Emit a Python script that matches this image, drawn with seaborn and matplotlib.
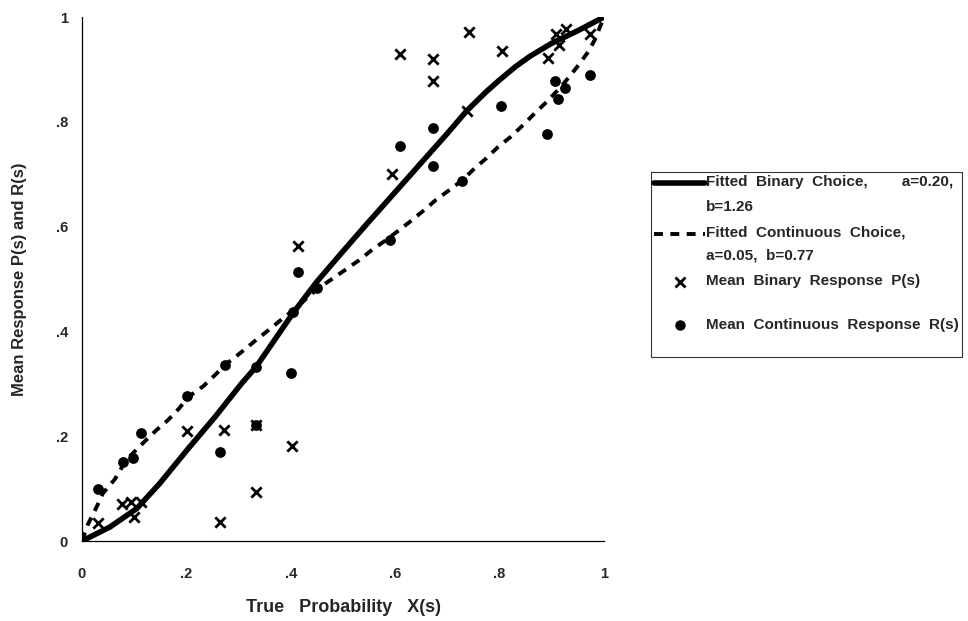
import matplotlib
matplotlib.use("Agg")
import matplotlib.pyplot as plt
import seaborn as sns
import pandas as pd
from matplotlib.lines import Line2D
from matplotlib.legend_handler import HandlerLine2D

# ---- data ----
binary_x = [0.031, 0.077, 0.093, 0.113, 0.099, 0.201, 0.272, 0.334, 0.403, 0.334, 0.264, 0.413,
            0.594, 0.609, 0.673, 0.673, 0.737, 0.741, 0.805, 0.893, 0.908, 0.914, 0.927, 0.973]
binary_y = [0.035, 0.071, 0.075, 0.074, 0.046, 0.209, 0.212, 0.221, 0.181, 0.093, 0.036, 0.563,
            0.700, 0.929, 0.920, 0.878, 0.821, 0.971, 0.935, 0.922, 0.968, 0.946, 0.977, 0.968]

cont_x = [0.031, 0.079, 0.097, 0.113, 0.201, 0.264, 0.273, 0.334, 0.333, 0.401, 0.405, 0.413,
          0.450, 0.590, 0.609, 0.672, 0.672, 0.728, 0.803, 0.891, 0.906, 0.912, 0.926, 0.973]
cont_y = [0.099, 0.151, 0.158, 0.206, 0.277, 0.170, 0.336, 0.221, 0.333, 0.320, 0.438, 0.514,
          0.482, 0.574, 0.754, 0.789, 0.716, 0.688, 0.830, 0.777, 0.877, 0.843, 0.864, 0.889]

fit_bin_x = [0, 0.054, 0.105, 0.149, 0.204, 0.255, 0.306, 0.334, 0.405, 0.45, 0.5, 0.55,
             0.609, 0.65, 0.7, 0.737, 0.775, 0.8, 0.83, 0.858, 0.9, 0.95, 1.0]
fit_bin_y = [0, 0.027, 0.062, 0.110, 0.177, 0.237, 0.301, 0.333, 0.436, 0.495, 0.553, 0.61,
             0.676, 0.722, 0.778, 0.821, 0.858, 0.880, 0.905, 0.925, 0.950, 0.974, 1.0]

fit_cont_x = [0, 0.011, 0.03, 0.04, 0.063, 0.085, 0.12, 0.143, 0.165, 0.186, 0.204, 0.233,
              0.255, 0.274, 0.306, 0.334, 0.358, 0.38, 0.405, 0.452, 0.476, 0.505, 0.531,
              0.556, 0.582, 0.607, 0.633, 0.656, 0.678, 0.704, 0.729, 0.752, 0.774, 0.797,
              0.822, 0.845, 0.867, 0.89, 0.912, 0.931, 0.951, 0.97, 0.982, 1.0]
fit_cont_y = [0, 0.031, 0.069, 0.091, 0.118, 0.155, 0.19, 0.212, 0.231, 0.253, 0.275, 0.296,
              0.317, 0.336, 0.361, 0.384, 0.403, 0.421, 0.441, 0.482, 0.498, 0.518, 0.536,
              0.556, 0.574, 0.593, 0.613, 0.632, 0.651, 0.67, 0.689, 0.711, 0.73, 0.752,
              0.772, 0.794, 0.816, 0.838, 0.861, 0.883, 0.908, 0.934, 0.956, 1.0]

tick_vals = [0, 0.2, 0.4, 0.6, 0.8, 1.0]
tick_labels = ["0", ".2", ".4", ".6", ".8", "1"]

legend_labels = [
    "Fitted  Binary  Choice,        a=0.20,\nb=1.26",
    "Fitted  Continuous  Choice,\na=0.05,  b=0.77",
    "Mean  Binary  Response  P(s)\n ",
    "Mean  Continuous  Response  R(s)\n ",
]
legend_linespacing = [1.97, 1.75, 1.28, 1.73]
legend_shift_pt = [16.9, 15.3, 11.8, 15.1]


class RaisedHandler(HandlerLine2D):
    """Line/marker handle aligned with the first text line of the label."""
    def __init__(self, shift, **kw):
        super().__init__(**kw)
        self.shift = shift

    def create_artists(self, legend, orig_handle, xdescent, ydescent, width, height,
                       fontsize, trans):
        return super().create_artists(legend, orig_handle, xdescent, ydescent - self.shift,
                                      width, height, fontsize, trans)


# ---- plotting ----
sns.set_style("white")
plt.rcParams["font.family"] = ["Liberation Sans", "DejaVu Sans"]
plt.rcParams["font.weight"] = "bold"

fig = plt.figure(figsize=(9.68, 6.21), dpi=100)
ax = fig.add_axes([0.0847, 0.1288, 0.5393, 0.8438])

dash = (0, (2.3, 1.9))
df_bin = pd.DataFrame({"x": fit_bin_x, "y": fit_bin_y})
df_cont = pd.DataFrame({"x": fit_cont_x, "y": fit_cont_y})
sns.lineplot(data=df_bin, x="x", y="y", ax=ax, color="black", linewidth=4.0,
             sort=False, estimator=None, solid_capstyle="round")
sns.lineplot(data=df_cont, x="x", y="y", ax=ax, color="black", linewidth=2.8,
             sort=False, estimator=None, linestyle=dash)

sns.scatterplot(x=binary_x, y=binary_y, ax=ax, marker="x", color="black", s=55,
                linewidth=2.0, zorder=5)
sns.scatterplot(x=cont_x, y=cont_y, ax=ax, marker="o", color="black", s=60,
                edgecolor="black", linewidth=0, zorder=5)

ax.set_xlim(0, 1)
ax.set_ylim(0, 1)
ax.set_xticks(tick_vals)
ax.set_xticklabels(tick_labels)
ax.set_yticks(tick_vals)
ax.set_yticklabels(tick_labels)
ax.tick_params(axis="x", direction="inout", length=5, width=0.8, pad=16, labelsize=10.5)
ax.tick_params(axis="y", direction="out", length=5, width=0.8, pad=5, labelsize=10.5)
for lab in ax.get_xticklabels() + ax.get_yticklabels():
    lab.set_fontweight("bold")

for s in ["top", "right"]:
    ax.spines[s].set_visible(False)
for s in ["left", "bottom"]:
    ax.spines[s].set_color("black")
    ax.spines[s].set_linewidth(0.9)

ax.set_xlabel("True   Probability   X(s)", fontsize=13, fontweight="bold", labelpad=13)
ax.set_ylabel("Mean Response P(s) and R(s)", fontsize=12, fontweight="bold", labelpad=21)

handles = [
    Line2D([], [], color="black", linewidth=4.0),
    Line2D([], [], color="black", linewidth=2.8, linestyle=dash),
    Line2D([], [], color="black", marker="x", linestyle="none", markersize=6.5,
           markeredgewidth=2),
    Line2D([], [], color="black", marker="o", linestyle="none", markersize=6.5),
]
handler_map = {h: RaisedHandler(sh) for h, sh in zip(handles, legend_shift_pt)}
leg = fig.legend(handles, legend_labels, handler_map=handler_map, loc="upper left",
                 bbox_to_anchor=(0.6725, 0.723), bbox_transform=fig.transFigure,
                 frameon=True, fancybox=False, edgecolor="black",
                 handlelength=3.35, handletextpad=0.05, labelspacing=0.8,
                 borderpad=0.2, borderaxespad=0,
                 prop={"family": ["Liberation Sans"], "weight": "bold", "size": 11})
for t, ls in zip(leg.get_texts(), legend_linespacing):
    t.set_linespacing(ls)
leg.get_frame().set_linewidth(0.8)

fig.savefig("out.png", dpi=100, facecolor="white")
